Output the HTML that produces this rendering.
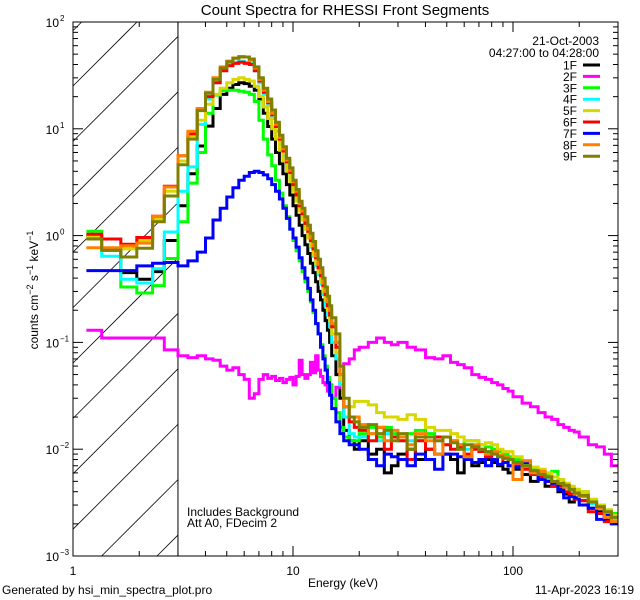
<!DOCTYPE html>
<html><head><meta charset="utf-8">
<style>
html,body{margin:0;padding:0;background:#fff;}
svg{display:block;font-family:"Liberation Sans",sans-serif;}
</style></head>
<body>
<svg id="chart" width="640" height="600" viewBox="0 0 640 600">
<text x="345" y="15" text-anchor="middle" font-size="15">Count Spectra for RHESSI Front Segments</text>
<g id="hatch"></g>
<g id="series"></g>
<g id="axes"></g>
<g id="legend"></g>
<text x="187" y="516" font-size="12">Includes Background</text>
<text x="187" y="527" font-size="12">Att A0, FDecim 2</text>
<text x="308" y="587" font-size="12">Energy (keV)</text>
<text x="38" y="290" font-size="12" text-anchor="middle" transform="rotate(-90 38 290)">counts cm<tspan dy="-5" font-size="9">−2</tspan><tspan dy="5"> s</tspan><tspan dy="-5" font-size="9">−1</tspan><tspan dy="5"> keV</tspan><tspan dy="-5" font-size="9">−1</tspan></text>
<text x="2" y="594" font-size="12">Generated by hsi_min_spectra_plot.pro</text>
<text x="634" y="594" font-size="12" text-anchor="end">11-Apr-2023 16:19</text>
</svg>
<script>
const edges=[1.15,1.35,1.65,1.95,2.3,2.6,3.0,3.33,3.67,4.0,4.33,4.67,5.0,5.33,5.67,6.0,6.33,6.67,7.0,7.33,7.67,8.0,8.33,8.67,9.0,9.33,9.67,10.0,10.33,10.67,11.0,11.33,11.67,12.0,12.33,12.67,13.0,13.33,13.67,14.0,14.33,14.67,15.0,15.67,16.33,17,18,19,20,22,24,26,28,30,33,36,40,44,48,52,56,60,65,70,75,80,85,90,95,100,110,120,130,140,150,160,170,180,190,200,220,240,260,280,300];
const seriesNames=["1F","2F","3F","4F","5F","6F","7F","8F","9F"];
const seriesColors=["#000000","#ff00ff","#00ff00","#00ffff","#d8d800","#ff0000","#0000ff","#ff8000","#808000"];
const s1F=[1.0,0.73,0.45,0.39,0.46,0.9, 1.9,3.8,6.9,10.6,15.5,21,24,26,27,26.5,25,23,19,14,10.5,8,6,4.7,3.8,3.0,2.4,1.9,1.55,1.25,1.0,0.82,0.68,0.55,0.45,0.37,0.3,0.25,0.2,0.16,0.13,0.1,0.075,0.05,0.03,0.015,0.012,0.01, 0.012,0.009,0.01,0.006,0.007,0.009,0.01,0.008,0.01,0.009,0.009,0.008,0.006,0.0085,0.007,0.0075,0.008,0.0075,0.007,0.0065,0.006,0.0065,0.0058,0.005,0.0052,0.0045,0.0045,0.004,0.0038,0.0032,0.0035,0.0033,0.0028,0.0026,0.0022,0.002];
const s2F=[0.13,0.11,0.11,0.11,0.11,0.085, 0.075,0.072,0.075,0.07,0.068,0.06,0.055,0.058,0.05,0.045,0.03,0.033,0.045,0.05,0.046,0.048,0.044,0.046,0.042,0.045,0.047,0.04,0.048,0.068,0.05,0.046,0.05,0.065,0.052,0.075,0.055,0.048,0.042,0.04,0.035,0.04,0.03,0.038,0.045,0.063,0.07,0.085, 0.09,0.1,0.11,0.1,0.095,0.1,0.09,0.085,0.072,0.07,0.075,0.065,0.062,0.058,0.05,0.047,0.045,0.042,0.04,0.037,0.035,0.031,0.027,0.025,0.022,0.02,0.019,0.017,0.016,0.015,0.0145,0.013,0.011,0.0105,0.009,0.007];
const s3F=[1.1,0.73,0.33,0.29,0.34,0.61, 1.35,3.1,6,14,20.7,22.8,23,23,22.5,22,21,18,12,8,5.7,4.5,3.3,2.5,1.9,1.5,1.15,0.9,0.72,0.58,0.46,0.37,0.3,0.24,0.19,0.15,0.12,0.095,0.075,0.06,0.047,0.04,0.03,0.022,0.016,0.013,0.012,0.012, 0.014,0.016,0.013,0.016,0.014,0.013,0.014,0.015,0.014,0.013,0.013,0.012,0.011,0.012,0.012,0.011,0.0105,0.01,0.0095,0.009,0.0085,0.008,0.0072,0.0065,0.006,0.0058,0.0062,0.0052,0.0045,0.0042,0.0042,0.004,0.0033,0.003,0.0027,0.0025];
const s4F=[0.95,0.64,0.39,0.36,0.49,1.08, 2.6,4.4,11,19,27,35,40,42,43,42,41,35,27,21,16.5,12.5,9.5,7.2,5.6,4.4,3.5,2.7,2.2,1.7,1.4,1.15,0.95,0.78,0.64,0.52,0.43,0.35,0.28,0.22,0.18,0.14,0.1,0.07,0.04,0.02,0.014,0.013, 0.013,0.014,0.012,0.014,0.013,0.012,0.012,0.012,0.013,0.012,0.011,0.012,0.011,0.01,0.0105,0.01,0.0092,0.009,0.0085,0.0082,0.008,0.0075,0.0068,0.006,0.0058,0.0052,0.0048,0.0047,0.0043,0.004,0.0038,0.0036,0.0031,0.0028,0.0025,0.0022];
const s5F=[1.0,0.75,0.75,0.9,1.42,2.6, 5,8.5,12,17,21,24,27,29,30,29,28,25,20,16,12.5,10,8,6.3,5,4,3.2,2.6,2.1,1.7,1.4,1.15,0.95,0.8,0.66,0.55,0.45,0.37,0.3,0.25,0.2,0.16,0.12,0.08,0.045,0.025,0.025,0.028, 0.028,0.026,0.022,0.02,0.02,0.019,0.021,0.019,0.016,0.015,0.015,0.014,0.013,0.012,0.012,0.011,0.0115,0.011,0.01,0.0095,0.0095,0.0085,0.0078,0.0068,0.0065,0.006,0.0055,0.0052,0.0048,0.0045,0.0042,0.004,0.0034,0.003,0.0027,0.0024];
const s6F=[1.03,0.93,0.83,0.96,1.52,2.9, 5.6,9,15,20,27,35,39,41,42,41,40,35,28,22,17.5,13.5,10.5,8,6.2,4.9,3.9,3.0,2.4,1.9,1.6,1.3,1.1,0.9,0.75,0.62,0.5,0.42,0.34,0.28,0.22,0.18,0.14,0.09,0.05,0.025,0.018,0.016, 0.015,0.012,0.016,0.01,0.013,0.012,0.008,0.012,0.01,0.013,0.011,0.01,0.0105,0.009,0.01,0.0095,0.0085,0.008,0.0085,0.0075,0.007,0.007,0.0065,0.0058,0.0055,0.005,0.0045,0.0045,0.004,0.0038,0.0034,0.0033,0.0026,0.0025,0.0021,0.002];
const s7F=[0.47,0.47,0.47,0.52,0.55,0.56, 0.52,0.58,0.7,0.95,1.4,1.8,2.3,2.8,3.3,3.6,3.9,4.0,3.9,3.7,3.4,3.0,2.6,2.2,1.8,1.45,1.15,0.95,0.78,0.62,0.5,0.4,0.32,0.25,0.2,0.15,0.12,0.09,0.07,0.055,0.042,0.032,0.024,0.018,0.014,0.012,0.011,0.011, 0.01,0.008,0.007,0.009,0.0085,0.008,0.007,0.009,0.008,0.0065,0.009,0.009,0.0085,0.008,0.0075,0.008,0.007,0.008,0.0072,0.0075,0.007,0.0068,0.0075,0.006,0.0052,0.005,0.0048,0.0042,0.0035,0.0036,0.0035,0.003,0.0028,0.0022,0.0024,0.002];
const s8F=[0.77,0.77,0.8,0.85,1.52,2.85, 5.6,9.5,15.5,22,30,38,43,46,47.5,47,44,37,29,23,18,14,11,8.3,6.5,5.1,4.1,3.2,2.6,2.0,1.7,1.4,1.15,0.95,0.8,0.65,0.54,0.45,0.36,0.3,0.24,0.2,0.15,0.1,0.05,0.025,0.02,0.02, 0.017,0.014,0.016,0.012,0.015,0.013,0.011,0.014,0.012,0.009,0.013,0.012,0.011,0.0085,0.011,0.01,0.009,0.0095,0.0088,0.0085,0.008,0.0052,0.0078,0.006,0.0062,0.0055,0.005,0.0048,0.0044,0.0042,0.0038,0.0036,0.0032,0.0028,0.0023,0.0021];
const s9F=[0.93,0.73,0.63,0.76,1.35,2.35, 4.6,8,14.8,21.5,29,37,42.5,45.7,47,47,45,38,30,24,19,15,11.5,8.7,6.8,5.3,4.3,3.3,2.7,2.1,1.8,1.5,1.25,1.05,0.88,0.72,0.6,0.5,0.4,0.33,0.27,0.22,0.17,0.12,0.06,0.03,0.02,0.018, 0.016,0.017,0.014,0.015,0.012,0.014,0.01,0.013,0.013,0.012,0.013,0.0115,0.01,0.011,0.0105,0.01,0.0095,0.009,0.0085,0.0082,0.008,0.0075,0.007,0.0063,0.0058,0.0055,0.005,0.0048,0.0046,0.0042,0.0039,0.0037,0.0032,0.0029,0.0026,0.0023];
const seriesValues=[s1F,s2F,s3F,s4F,s5F,s6F,s7F,s8F,s9F];
const yTickExps=[-3,-2,-1,0,1,2];
const xTickLabels=["1","10","100"];
const xTickVals=[1,10,100];
const dateLabel="21-Oct-2003";
const timeLabel="04:27:00 to 04:28:00";

const NS="http://www.w3.org/2000/svg";
const L=73,R=618,T=22,B=556;
const xMinLog=0,xMaxLog=(R-L)/220;
const yMinLog=-3,yMaxLog=2;
function xs(e){return L+(Math.log10(e)-xMinLog)/(xMaxLog-xMinLog)*(R-L);}
function ys(v){return B-(Math.log10(v)-yMinLog)/(yMaxLog-yMinLog)*(B-T);}
function mk(tag,attrs,parent){const el=document.createElementNS(NS,tag);for(const k in attrs)el.setAttribute(k,attrs[k]);parent.appendChild(el);return el;}

const hatch=document.getElementById('hatch');
const hx1=xs(3.0);
for(let c=713;c>T+L-60;c-=55.4){
  let xa=Math.max(L,c-B), xb=Math.min(hx1,c-T);
  if(xb<=xa)continue;
  const ln=mk('line',{x1:xa,y1:c-xa,x2:xb,y2:c-xb,stroke:'#000','stroke-width':0.8},hatch);
  
  
}
const vl=mk('line',{x1:hx1,y1:T,x2:hx1,y2:B,stroke:'#000','stroke-width':1},hatch);



const sg=document.getElementById('series');
seriesValues.forEach((vals,si)=>{
  let d='';
  for(let i=0;i<vals.length;i++){
    const x0=xs(edges[i]),x1=xs(edges[i+1]),y=ys(vals[i]);
    d+=(i===0?'M':'L')+x0.toFixed(1)+','+y.toFixed(1)+'L'+x1.toFixed(1)+','+y.toFixed(1);
  }
  const p=mk('path',{d:d,fill:'none',stroke:seriesColors[si],'stroke-width':3,'stroke-linejoin':'miter'},sg);
  
  
});

const ax=document.getElementById('axes');
const fr=mk('rect',{x:L,y:T,width:R-L,height:B-T,fill:'none',stroke:'#000','stroke-width':1},ax);


for(let dec=1;dec<=100;dec*=10){
  for(let m=1;m<10;m++){
    const e=dec*m; if(Math.log10(e)>xMaxLog)break;
    const x=xs(e),len=(m===1)?10:5;
    const t1=mk('line',{x1:x,y1:B,x2:x,y2:B-len,stroke:'#000'},ax);
    
    
    const t2=mk('line',{x1:x,y1:T,x2:x,y2:T+len,stroke:'#000'},ax);
    
    
  }
}
xTickVals.forEach((v,i)=>{
  const t=mk('text',{x:xs(v),y:B+19,'text-anchor':'middle','font-size':12},ax);
  t.textContent=xTickLabels[i];
  
  
});
yTickExps.forEach(ex=>{
  for(let m=1;m<10;m++){
    const v=m*Math.pow(10,ex); if(Math.log10(v)>yMaxLog+1e-9)break;
    const y=ys(v),len=(m===1)?10:5;
    const a=mk('line',{x1:L,y1:y,x2:L+len,y2:y,stroke:'#000'},ax);
    
    
    const b=mk('line',{x1:R,y1:y,x2:R-len,y2:y,stroke:'#000'},ax);
    
    
  }
  const t=mk('text',{x:L-14,y:ys(Math.pow(10,ex))+5,'text-anchor':'end','font-size':12},ax);
  t.textContent='10';
  
  
  const s=mk('text',{x:L-13,y:ys(Math.pow(10,ex))-1,'font-size':8},ax);
  s.textContent=String(ex).replace('-','−');
  
  
});

const lg=document.getElementById('legend');
const d1=mk('text',{x:599,y:45,'text-anchor':'end','font-size':12},lg);
d1.textContent=dateLabel;


const d2=mk('text',{x:599,y:57,'text-anchor':'end','font-size':12},lg);
d2.textContent=timeLabel;


seriesNames.forEach((n,i)=>{
  const y=65+i*11.4;
  const t=mk('text',{x:577,y:y+4.5,'text-anchor':'end','font-size':12},lg);
  t.textContent=n;
  
  
  const l=mk('line',{x1:583,y1:y,x2:600,y2:y,stroke:seriesColors[i],'stroke-width':3},lg);
  
  
});
</script>
</body></html>
